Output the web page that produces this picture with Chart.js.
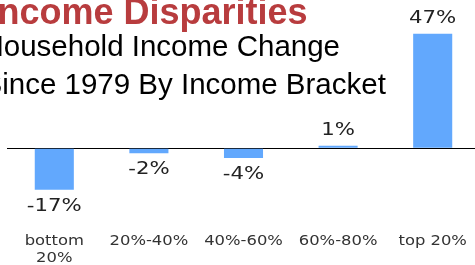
<!DOCTYPE html>
<html><head><meta charset="utf-8">
<script src="https://cdn.jsdelivr.net/npm/chart.js@4.4.0/dist/chart.umd.min.js"></script>
<style>
html,body{margin:0;padding:0;background:#fff;width:475px;height:265px;overflow:hidden;position:relative}
#wrap{position:absolute;left:0;top:0;width:480px;height:273px}
.t{position:absolute;white-space:pre;font-family:"Liberation Sans",Arial,sans-serif;color:#000}
#title{left:-12.5px;top:-6px;font-size:36px;line-height:36px;font-weight:bold;color:#b83c3e}
#sub{left:-17.5px;top:27.4px;font-size:29.5px;line-height:37.4px}
</style></head><body>
<div id="wrap"><canvas id="c" width="480" height="273"></canvas></div>
<div class="t" id="title">Income Disparities</div>
<div class="t" id="sub">Household Income Change<br>Since 1979 By Income Bracket</div>
<script>
const categories = [["bottom", "20%"], "20%-40%", "40%-60%", "60%-80%", "top 20%"];
const changes = [-17, -2, -4, 1, 47];
const valueLabels = ["-17%", "-2%", "-4%", "1%", "47%"];

const stretchPlugin = {
  id: 'stretch',
  beforeDraw(chart) {
    const ctx = chart.ctx;
    if (ctx._stretched) return;
    const orig = CanvasRenderingContext2D.prototype.fillText;
    ctx.fillText = function (text, x, y) {
      const k = this.font.indexOf('14px') >= 0 ? 1.17 : 1.25;
      this.save();
      this.translate(x, y);
      this.scale(k, 1);
      orig.call(this, text, 0, 0);
      this.restore();
    };
    ctx._stretched = true;
  }
};

const labelPlugin = {
  id: 'vlabels',
  afterDatasetsDraw(chart) {
    const ctx = chart.ctx;
    const meta = chart.getDatasetMeta(0);
    ctx.save();
    ctx.font = '17px "DejaVu Sans"';
    ctx.fillStyle = '#222';
    ctx.textAlign = 'center';
    ctx.textBaseline = 'middle';
    meta.data.forEach((bar, i) => {
      const v = changes[i];
      const y = v >= 0 ? bar.y - 15.5 : bar.y + 16.5;
      ctx.fillText(valueLabels[i], bar.x, y);
    });
    ctx.restore();
  }
};

new Chart(document.getElementById('c'), {
  type: 'bar',
  data: {
    labels: categories,
    datasets: [{
      data: changes,
      backgroundColor: '#62a8fd',
      borderWidth: 0,
      barPercentage: 0.413,
      categoryPercentage: 1
    }]
  },
  options: {
    responsive: false,
    animation: false,
    devicePixelRatio: 1,
    layout: { padding: { left: 7, right: 0, top: 10, bottom: 0 } },
    plugins: { legend: { display: false }, tooltip: { enabled: false }, title: { display: false } },
    scales: {
      x: {
        grid: { display: false, drawTicks: false },
        border: { display: false },
        ticks: {
          autoSkip: false, maxRotation: 0, minRotation: 0, padding: 6,
          color: '#333',
          font: { family: '"DejaVu Sans"', size: 14, lineHeight: 1.2 }
        }
      },
      y: {
        min: -32.5, max: 56.8,
        afterBuildTicks: axis => { axis.ticks = [{ value: 0 }]; },
        ticks: { display: false },
        border: { display: false },
        grid: { drawTicks: false, color: '#000', lineWidth: 1 }
      }
    }
  },
  plugins: [stretchPlugin, labelPlugin]
});
</script>
</body></html>
